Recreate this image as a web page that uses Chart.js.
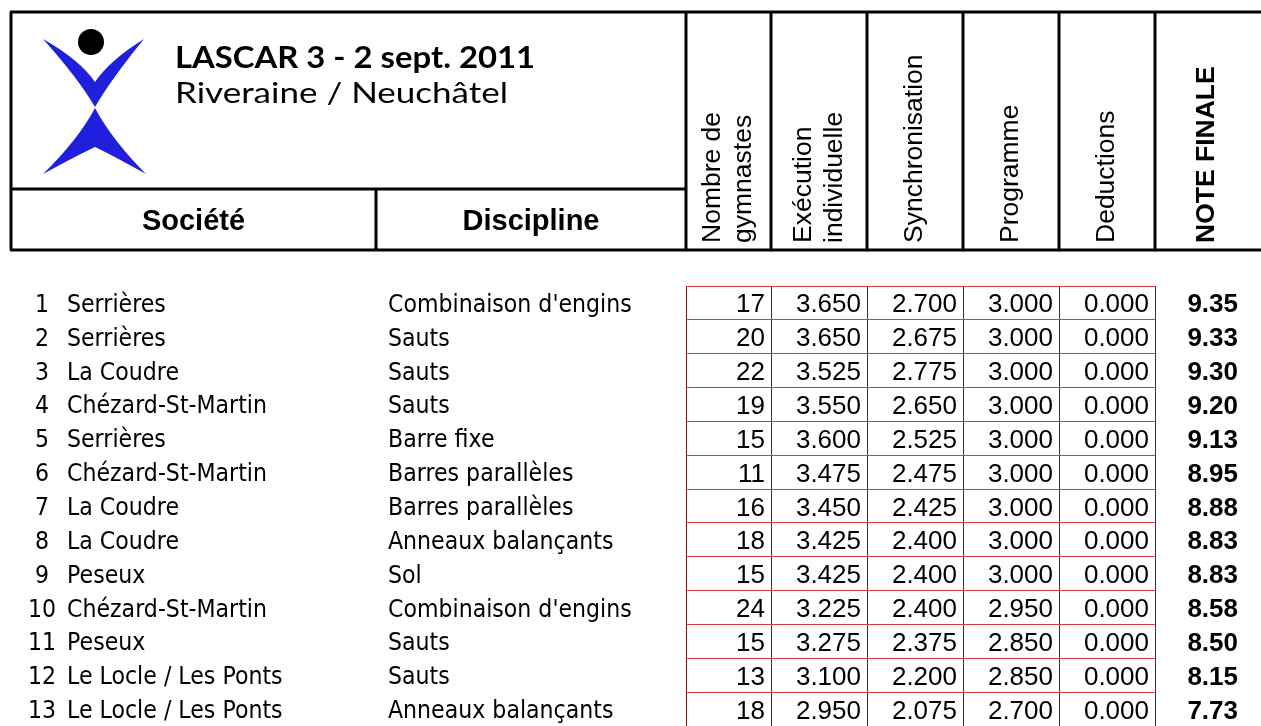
<!DOCTYPE html>
<html>
<head>
<meta charset="utf-8">
<title>LASCAR 3 - 2 sept. 2011</title>
<script src="https://cdn.jsdelivr.net/npm/chart.js@4/dist/chart.umd.min.js"></script>
<style>
  html, body { margin: 0; padding: 0; background: #fff; overflow: hidden; }
  canvas { display: block; }
</style>
</head>
<body>
<canvas id="tableau" width="1261" height="726"></canvas>
<script>
// --- donnees du classement ---
const rangs = ['1', '2', '3', '4', '5', '6', '7', '8', '9', '10', '11', '12', '13'];
const societes = ['Serrières', 'Serrières', 'La Coudre', 'Chézard-St-Martin', 'Serrières',
  'Chézard-St-Martin', 'La Coudre', 'La Coudre', 'Peseux', 'Chézard-St-Martin', 'Peseux',
  'Le Locle / Les Ponts', 'Le Locle / Les Ponts'];
const disciplines = ["Combinaison d'engins", 'Sauts', 'Sauts', 'Sauts', 'Barre fixe',
  'Barres parallèles', 'Barres parallèles', 'Anneaux balançants', 'Sol', "Combinaison d'engins",
  'Sauts', 'Sauts', 'Anneaux balançants'];
const nbGymnastes = [17, 20, 22, 19, 15, 11, 16, 18, 15, 24, 15, 13, 18];
const execution = [3.650, 3.650, 3.525, 3.550, 3.600, 3.475, 3.450, 3.425, 3.425, 3.225, 3.275, 3.100, 2.950];
const synchronisation = [2.700, 2.675, 2.775, 2.650, 2.525, 2.475, 2.425, 2.400, 2.400, 2.400, 2.375, 2.200, 2.075];
const programme = [3.000, 3.000, 3.000, 3.000, 3.000, 3.000, 3.000, 3.000, 3.000, 2.950, 2.850, 2.850, 2.700];
const deductions = [0, 0, 0, 0, 0, 0, 0, 0, 0, 0, 0, 0, 0];
const noteFinale = [9.35, 9.33, 9.30, 9.20, 9.13, 8.95, 8.88, 8.83, 8.83, 8.58, 8.50, 8.15, 7.73];

const titre = 'LASCAR 3 - 2 sept. 2011';
const lieu = 'Riveraine / Neuchâtel';
const entetes = [['Nombre de', 'gymnastes'], ['Exécution', 'individuelle'], ['Synchronisation'],
  ['Programme'], ['Deductions']];
const enteteFinale = 'NOTE FINALE';

const colonnes = [nbGymnastes, execution, synchronisation, programme, deductions];
const decimales = [0, 3, 3, 3, 3];

// --- mise en page (unites de l'axe x = pixels depuis le bord gauche du tableau) ---
const bords = [0, 85, 181, 277, 373, 469];
const xRang = -644, xSociete = -619, xDiscipline = -298, xFinale = 552, xFinaleCentre = 521;

const fontTahoma = '"DejaVu Sans"';
const fontArial = '"Liberation Sans", Arial';
const fontCalibri = 'Lato, "Open Sans"';

function texteEtire(ctx, t, x, y, f) {
  ctx.save();
  ctx.translate(x, y);
  ctx.scale(f, 1);
  ctx.fillText(t, 0, 0);
  ctx.restore();
}

function ligne(ctx, x1, y1, x2, y2) {
  ctx.beginPath();
  ctx.moveTo(x1, y1);
  ctx.lineTo(x2, y2);
  ctx.stroke();
}

function dessineLogo(ctx) {
  ctx.save();
  ctx.fillStyle = '#1f1fdc';
  // bras
  ctx.beginPath();
  ctx.moveTo(43, 39);
  ctx.quadraticCurveTo(80, 60, 95, 82);
  ctx.quadraticCurveTo(110, 60, 144, 39);
  ctx.quadraticCurveTo(112, 78, 95, 107);
  ctx.quadraticCurveTo(78, 78, 43, 39);
  ctx.closePath();
  ctx.fill();
  // jambes
  ctx.beginPath();
  ctx.moveTo(95, 108);
  ctx.quadraticCurveTo(112, 140, 146, 174);
  ctx.quadraticCurveTo(110, 154, 95, 147);
  ctx.quadraticCurveTo(80, 154, 43, 174);
  ctx.quadraticCurveTo(78, 140, 95, 108);
  ctx.closePath();
  ctx.fill();
  // tete
  ctx.fillStyle = '#000';
  ctx.beginPath();
  ctx.arc(91, 42, 13, 0, Math.PI * 2);
  ctx.fill();
  ctx.restore();
}

const pluginTableau = {
  id: 'tableau',
  beforeDraw(chart) {
    const ctx = chart.ctx;
    ctx.save();
    ctx.fillStyle = '#fff';
    ctx.fillRect(0, 0, chart.width, chart.height);
    ctx.restore();
  },
  afterDraw(chart) {
    const ctx = chart.ctx;
    const xs = chart.scales.x, ys = chart.scales.y;
    const px = v => xs.getPixelForValue(v);
    ctx.save();
    ctx.fillStyle = '#000';

    // cadre de l'en-tete
    ctx.strokeStyle = '#000';
    ctx.lineWidth = 3;
    ligne(ctx, 10, 12, 1261, 12);
    ligne(ctx, 10, 250, 1261, 250);
    ligne(ctx, 11, 12, 11, 250);
    ligne(ctx, 10, 189, px(0), 189);
    ligne(ctx, 376, 189, 376, 250);
    bords.forEach(b => ligne(ctx, Math.round(px(b)), 12, Math.round(px(b)), 250));

    dessineLogo(ctx);

    // titre
    ctx.textBaseline = 'alphabetic';
    ctx.textAlign = 'left';
    ctx.font = 'bold 30px ' + fontCalibri;
    texteEtire(ctx, titre, 175, 68, 360 / ctx.measureText(titre).width);
    ctx.font = '28px ' + fontCalibri;
    texteEtire(ctx, lieu, 175, 103, 333 / ctx.measureText(lieu).width);

    // Société / Discipline
    ctx.font = 'bold 29px ' + fontArial;
    ctx.textAlign = 'center';
    ctx.fillText('Société', 193.5, 230);
    ctx.fillText('Discipline', 531, 230);

    // en-tetes verticaux
    const interligne = 31;
    const ecrireVertical = (lignes, cx, gras) => {
      ctx.font = (gras ? 'bold ' : '') + '26.5px ' + fontArial;
      lignes.forEach((t, k) => {
        const x = cx + (k - (lignes.length - 1) / 2) * interligne;
        ctx.save();
        ctx.translate(x, 243);
        ctx.rotate(-Math.PI / 2);
        ctx.textAlign = 'left';
        ctx.textBaseline = 'middle';
        ctx.fillText(t, 0, 0);
        ctx.restore();
      });
    };
    entetes.forEach((lignes, c) => ecrireVertical(lignes, px((bords[c] + bords[c + 1]) / 2), false));
    ecrireVertical([enteteFinale], px(xFinaleCentre), true);

    // lignes du classement
    ctx.font = '25px ' + fontTahoma;
    const f = 200 / ctx.measureText('Chézard-St-Martin').width;
    rangs.forEach((r, i) => {
      const y = ys.getPixelForValue(i) + 9;
      ctx.font = '25px ' + fontTahoma;
      ctx.textAlign = 'center';
      texteEtire(ctx, r, px(xRang), y, f);
      ctx.textAlign = 'left';
      texteEtire(ctx, societes[i], px(xSociete), y, f);
      texteEtire(ctx, disciplines[i], px(xDiscipline), y, f);

      ctx.font = '26px ' + fontArial;
      ctx.textAlign = 'right';
      colonnes.forEach((serie, c) => {
        ctx.fillText(serie[i].toFixed(decimales[c]), px(bords[c + 1]) - 6, y + 0.5);
      });
      ctx.font = 'bold 26px ' + fontArial;
      ctx.fillText(noteFinale[i].toFixed(2), px(xFinale), y + 0.5);
    });
    ctx.restore();
  }
};

new Chart(document.getElementById('tableau'), {
  type: 'bar',
  data: { labels: rangs, datasets: [] },
  options: {
    responsive: false,
    animation: false,
    devicePixelRatio: 1,
    indexAxis: 'y',
    events: [],
    layout: { padding: { left: 686, right: 106, top: 286, bottom: 0 } },
    plugins: { legend: { display: false }, tooltip: { enabled: false } },
    scales: {
      x: {
        type: 'linear', min: 0, max: 469,
        afterBuildTicks: s => { s.ticks = bords.map(v => ({ value: v })); },
        ticks: { display: false },
        grid: { color: '#6e1f1f', lineWidth: 1, drawTicks: false },
        border: { display: false }
      },
      y: {
        type: 'category', offset: true,
        ticks: { display: false },
        grid: { offset: true, color: '#d23c3c', lineWidth: 1, drawTicks: false },
        border: { display: false }
      }
    }
  },
  plugins: [pluginTableau]
});
</script>
</body>
</html>
